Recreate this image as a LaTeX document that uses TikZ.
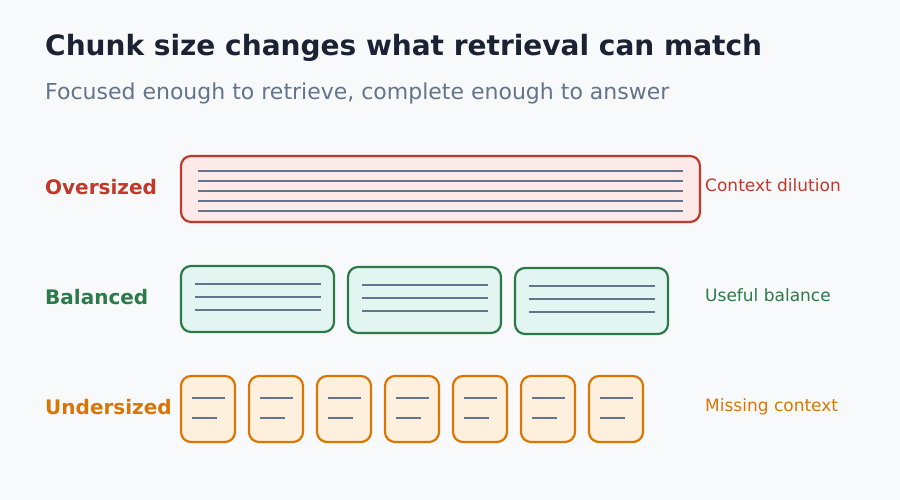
\documentclass[tikz,border=0pt]{standalone}
\usepackage{fontspec}
\setmainfont{DejaVu Sans}
\definecolor{bg}{HTML}{F8F9FB}
\definecolor{titlec}{HTML}{1A2233}
\definecolor{subc}{HTML}{64748B}
\definecolor{linec}{HTML}{64748B}
\definecolor{redc}{HTML}{C0392B}
\definecolor{redf}{HTML}{FDE9E8}
\definecolor{greenc}{HTML}{2C7A4A}
\definecolor{greenf}{HTML}{E3F5F1}
\definecolor{orangec}{HTML}{D97706}
\definecolor{orangef}{HTML}{FEF0DD}
\begin{document}
\begin{tikzpicture}[x=1pt,y=-1pt,
  chunk/.style={rounded corners=10pt, line width=2.2pt},
  txtline/.style={draw=linec, line width=2pt},
  rowlabel/.style={anchor=base west, inner sep=0pt, font=\fontsize{20}{24}\selectfont\bfseries},
  sidelabel/.style={anchor=base west, inner sep=0pt, font=\fontsize{17}{20}\selectfont}]
\path[fill=bg] (0,0) rectangle (900,500);
\useasboundingbox (0,0) rectangle (900,500);

\node[anchor=base west, inner sep=0pt, text=titlec, font=\fontsize{28}{33}\selectfont\bfseries] (title) at (45,56) {Chunk size changes what retrieval can match};
\node[anchor=base west, inner sep=0pt, text=subc, font=\fontsize{22}{26}\selectfont] (subtitle) at (45,100) {Focused enough to retrieve, complete enough to answer};

% Oversized
\node[rowlabel, text=redc] (lover) at (45,195) {Oversized};
\draw[chunk, draw=redc, fill=redf] (181,156) rectangle (700,222);
\foreach \yy in {171,181,191,201,211}
  \draw[txtline] (198,\yy) -- (683,\yy);
\node[sidelabel, text=redc] (rover) at (705,191) {Context dilution};

% Balanced
\node[rowlabel, text=greenc] (lbal) at (45,304) {Balanced};
\foreach \k in {0,1,2} {
  \pgfmathsetmacro{\xa}{181+167*\k}
  \pgfmathsetmacro{\ya}{266+\k}
  \draw[chunk, draw=greenc, fill=greenf] (\xa,\ya) rectangle ++(153,66);
  \foreach \d in {18,31,44}
    \draw[txtline] (\xa+14,\ya+\d) -- (\xa+140,\ya+\d);
}
\node[sidelabel, text=greenc] (rbal) at (705,301) {Useful balance};

% Undersized
\node[rowlabel, text=orangec] (lund) at (45,414) {Undersized};
\foreach \k in {0,...,6} {
  \pgfmathsetmacro{\xa}{181+68*\k}
  \draw[chunk, draw=orangec, fill=orangef] (\xa,376) rectangle ++(54,66);
  \draw[txtline] (\xa+11,398) -- (\xa+44,398);
  \draw[txtline] (\xa+11,418) -- (\xa+36,418);
}
\node[sidelabel, text=orangec] (rund) at (705,411) {Missing context};
\end{tikzpicture}
\end{document}
